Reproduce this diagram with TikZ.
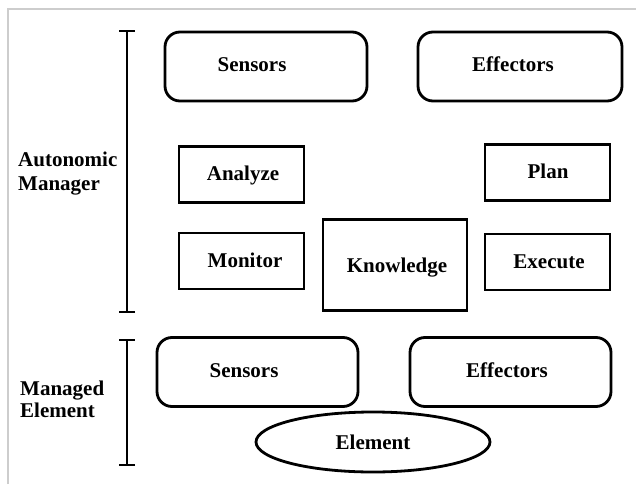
\documentclass[tikz,border=0pt]{standalone}
\usepackage{fontspec}
\setmainfont{Liberation Serif}
\usetikzlibrary{arrows.meta,shapes.geometric}
\definecolor{frame}{RGB}{205,205,205}
\tikzset{
  lbl/.style={font=\fontsize{21}{25}\selectfont\bfseries, inner sep=0pt, anchor=base},
  side/.style={font=\fontsize{21}{24}\selectfont\bfseries, inner sep=0pt, anchor=base west, align=left},
  roundbox/.style={draw, line width=2.8pt, rounded corners=15pt, inner sep=0pt},
  sqbox/.style={draw, line width=2.8pt, inner sep=0pt},
  oval/.style={draw, ellipse, line width=2.8pt, inner sep=0pt},
  span/.style={line width=2pt, {Bar[width=16pt,line width=2pt]}-{Bar[width=16pt,line width=2pt]}}
}
\begin{document}
\begin{tikzpicture}[x=1pt, y=-1pt]
\useasboundingbox (0,0) rectangle (636,484);
% thin page frame
\draw[frame, line width=1.2pt] (8,484) -- (8,9) -- (636,9);

% group brackets
\coordinate (amtop) at (127,30);
\coordinate (ambot) at (127,313);
\coordinate (metop) at (127,339);
\coordinate (mebot) at (127,466);
\draw[span] (amtop) -- (ambot);
\draw[span] (metop) -- (mebot);

% group captions (anchored at the baseline of the last line)
\node[side] (amlbl) at (18,190) {Autonomic\\Manager};
\node[side, font=\fontsize{21}{22}\selectfont\bfseries] (melbl) at (20,417) {Managed\\Element};

% autonomic manager: touchpoints
\node[roundbox, minimum width=202pt, minimum height=69pt] (sens1) at (266,66.5) {};
\node[roundbox, minimum width=204pt, minimum height=69pt] (eff1) at (520,66.5) {};
\node[lbl] (sens1t) at (252,72) {Sensors};
\node[lbl] (eff1t) at (513,72) {Effectors};

% MAPE-K loop
\node[sqbox, minimum width=125pt, minimum height=56pt] (ana) at (241.5,174.5) {};
\node[sqbox, minimum width=125pt, minimum height=56pt] (plan) at (547.5,172.5) {};
\node[sqbox, minimum width=125pt, minimum height=56pt] (mon) at (241.5,261) {};
\node[sqbox, minimum width=144pt, minimum height=91pt] (know) at (395,265) {};
\node[sqbox, minimum width=125pt, minimum height=56pt] (exe) at (547.5,262) {};
\node[lbl] (anat) at (243,180) {Analyze};
\node[lbl] (plant) at (548,178) {Plan};
\node[lbl] (mont) at (245,267) {Monitor};
\node[lbl] (knowt) at (397,272) {Knowledge};
\node[lbl] (exet) at (549,268) {Execute};

% managed element
\node[roundbox, minimum width=201pt, minimum height=69pt] (sens2) at (257.5,372) {};
\node[roundbox, minimum width=201pt, minimum height=69pt] (eff2) at (510.5,372) {};
\node[lbl] (sens2t) at (244,377) {Sensors};
\node[lbl] (eff2t) at (507,377) {Effectors};
\node[oval, minimum width=234pt, minimum height=60pt] (elem) at (373,442) {};
\node[lbl] (elemt) at (373,449) {Element};
\end{tikzpicture}
\end{document}
